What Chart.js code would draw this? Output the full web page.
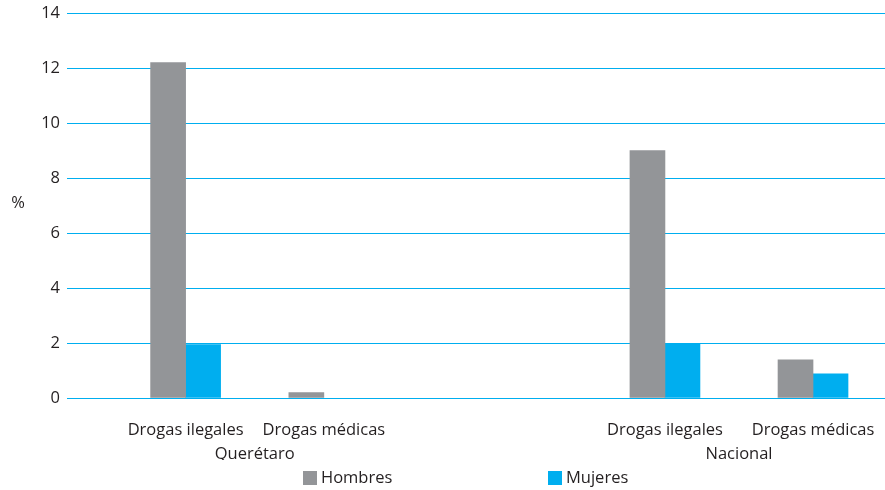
<!DOCTYPE html>
<html>
<head>
<meta charset="utf-8">
<script src="https://cdn.jsdelivr.net/npm/chart.js@4/dist/chart.umd.min.js"></script>
<style>
  html, body { margin: 0; padding: 0; background: #fff; }
  #wrap { width: 885px; height: 490px; }
</style>
</head>
<body>
<div id="wrap"><canvas id="grafica"></canvas></div>
<script>
// datos
const categorias = ["Drogas ilegales", "Drogas médicas", "Drogas ilegales", "Drogas médicas"];
const posiciones = [14.5, 31.4, 73.1, 91.2];
const grupos = ["Querétaro", "Nacional"];
const posGrupos = [22.95, 82.15];
const hombres = [12.2, 0.2, 9.0, 1.39];
const mujeres = [1.94, null, 1.97, 0.88];
const yTicks = [0, 2, 4, 6, 8, 10, 12, 14];

const gris = "#939598";
const azul = "#00aeef";
const texto = "#231f20";
const fuente = { family: "'Open Sans', sans-serif", size: 16.5 };

const ctx = document.getElementById("grafica").getContext("2d");

// leyenda y simbolo % dibujados a mano
const extras = {
  id: "extras",
  afterDraw(chart) {
    const c = chart.ctx;
    c.save();
    c.font = "16.5px 'Open Sans', sans-serif";
    c.fillStyle = texto;
    c.textAlign = "center";
    c.textBaseline = "middle";
    c.fillText("%", 18, 203);
    const xs = [303, 548];
    chart.data.datasets.forEach((ds, i) => {
      c.fillStyle = ds.backgroundColor;
      c.fillRect(xs[i], 471, 14, 14);
      c.fillStyle = texto;
      c.textAlign = "left";
      c.fillText(ds.label, xs[i] + 18, 478.5);
    });
    c.restore();
  }
};

const sinPadding = (axis) => { axis.paddingLeft = 0; axis.paddingRight = 0; };

new Chart(ctx, {
  type: "bar",
  data: {
    datasets: [
      { label: "Hombres", data: hombres.map((v, i) => ({ x: posiciones[i], y: v })), backgroundColor: gris },
      { label: "Mujeres", data: mujeres.map((v, i) => ({ x: posiciones[i], y: v })), backgroundColor: azul }
    ]
  },
  options: {
    responsive: true,
    maintainAspectRatio: false,
    animation: false,
    barThickness: 35,
    layout: { padding: { top: 13, right: 0, left: 0, bottom: 30 } },
    plugins: { legend: { display: false }, tooltip: { enabled: false } },
    scales: {
      x: {
        type: "linear",
        min: 0,
        max: 100,
        offset: false,
        grid: { display: false, drawTicks: false },
        border: { display: false },
        afterBuildTicks: (axis) => { axis.ticks = posiciones.map(v => ({ value: v })); },
        afterFit: (axis) => { axis.height = 42; sinPadding(axis); },
        ticks: {
          autoSkip: false,
          maxRotation: 0,
          padding: 22,
          color: texto,
          font: fuente,
          callback: (v, i) => categorias[i]
        }
      },
      grp: {
        type: "linear",
        position: "bottom",
        min: 0,
        max: 100,
        offset: false,
        grid: { display: false, drawTicks: false },
        border: { display: false },
        afterBuildTicks: (axis) => { axis.ticks = posGrupos.map(v => ({ value: v })); },
        afterFit: (axis) => { axis.height = 20; sinPadding(axis); },
        ticks: {
          autoSkip: false,
          maxRotation: 0,
          padding: 4,
          color: texto,
          font: fuente,
          callback: (v, i) => grupos[i]
        }
      },
      y: {
        min: 0,
        max: 14,
        grid: { color: azul, lineWidth: 1, drawTicks: false },
        border: { display: false },
        afterBuildTicks: (axis) => { axis.ticks = yTicks.map(v => ({ value: v })); },
        afterFit: (axis) => { axis.width = 67; axis.paddingTop = 0; axis.paddingBottom = 0; },
        ticks: { padding: 7, color: texto, font: fuente }
      }
    }
  },
  plugins: [extras]
});
</script>
</body>
</html>
